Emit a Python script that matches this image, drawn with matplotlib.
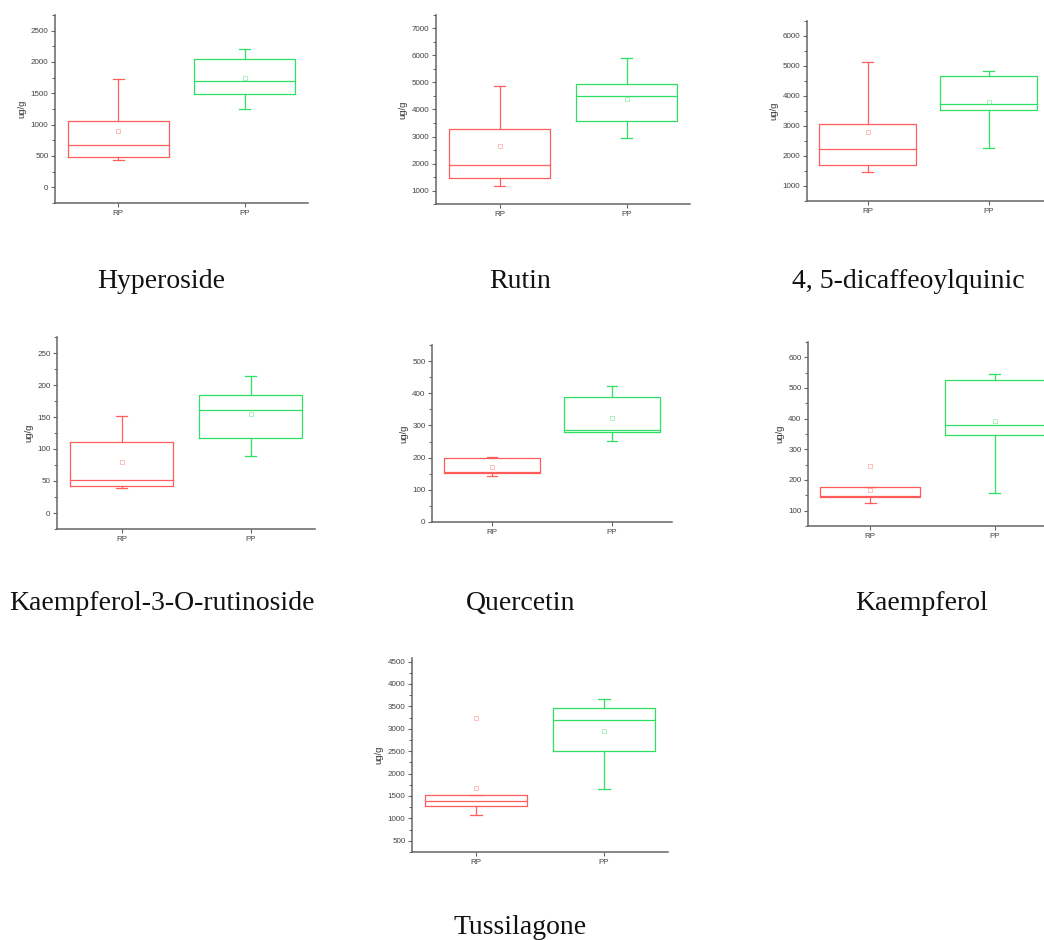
import matplotlib
matplotlib.use("Agg")
import matplotlib.pyplot as plt
from matplotlib.ticker import MultipleLocator

# Contenu (ug/g) des composés dans les deux groupes RP / PP
compounds = ["Hyperoside", "Rutin", "4, 5-dicaffeoylquinic",
             "Kaempferol-3-O-rutinoside", "Quercetin", "Kaempferol",
             "Tussilagone"]
groups = ["RP", "PP"]

rp_low = [430, 1175, 1460, 39, 142, 126, 1075]
rp_q1 = [478, 1445, 1690, 41.5, 152, 143.5, 1267]
rp_med = [672, 1950, 2240, 51, 155, 147, 1386]
rp_q3 = [1063, 3260, 3065, 111, 198, 178, 1513]
rp_high = [1725, 4870, 5140, 151, 202, 178, 1513]
rp_mean = [905, 2630, 2786, 80, 171, 167, 1677]
rp_extra = [[], [], [], [], [], [245], [3249]]

pp_low = [1255, 2950, 2283, 89.6, 252, 159, 1655]
pp_q1 = [1496, 3580, 3522, 117, 281, 348, 2496]
pp_med = [1704, 4506, 3746, 161, 285, 380, 3204]
pp_q3 = [2051, 4926, 4661, 184.5, 387, 525, 3457]
pp_high = [2201, 5914, 4839, 213.8, 422, 546, 3673]
pp_mean = [1741, 4395, 3801, 155, 322, 392, 2958]
pp_extra = [[], [], [], [], [], [], []]

y_limits = [(-250, 2750), (500, 7500), (500, 6500), (-25, 275),
            (0, 550), (50, 650), (250, 4580)]
y_major = [500, 1000, 1000, 50, 100, 100, 500]

# position des axes en pixels : gauche, haut, droite, bas
W, H = 1044, 940
panels_px = [(55, 15, 308, 203), (436, 15, 690, 204), (807, 21, 1049, 201),
             (57, 337, 315, 529), (432, 345, 672, 522), (808, 342, 1057, 526),
             (412, 658, 668, 852)]
titles_px = [(161, 281), (520, 281), (908, 281),
             (162, 603), (521, 603), (922, 603),
             (520, 928)]

RED = "#ff5c5c"
GREEN = "#2fe062"

fig = plt.figure(figsize=(W / 100, H / 100), dpi=100)

for i, name in enumerate(compounds):
    l, t, r, b = panels_px[i]
    ax = fig.add_axes([l / W, 1 - b / H, (r - l) / W, (b - t) / H])

    stats = []
    data = [(rp_low, rp_q1, rp_med, rp_q3, rp_high, rp_mean, rp_extra),
            (pp_low, pp_q1, pp_med, pp_q3, pp_high, pp_mean, pp_extra)]
    for g, (lo, q1, med, q3, hi, mn, ex) in zip(groups, data):
        stats.append(dict(label=g, whislo=lo[i], q1=q1[i], med=med[i],
                          q3=q3[i], whishi=hi[i], mean=mn[i], fliers=ex[i]))

    for k, color in enumerate([RED, GREEN]):
        line = dict(color=color, linewidth=0.9)
        pts = dict(marker="s", markersize=2.5, markerfacecolor="none",
                   markeredgecolor=color, alpha=0.4, markeredgewidth=0.7)
        ax.bxp([stats[k]], positions=[k + 1], widths=0.8, capwidths=0.09,
               showmeans=True, boxprops=line, medianprops=line,
               whiskerprops=line, capprops=line,
               meanprops=pts, flierprops=pts)

    ax.set_xlim(0.5, 2.5)
    ax.set_ylim(*y_limits[i])
    ax.set_xticks([1, 2])
    ax.set_xticklabels(groups)
    ax.yaxis.set_major_locator(MultipleLocator(y_major[i]))
    ax.yaxis.set_minor_locator(MultipleLocator(y_major[i] / 2))
    ax.set_ylabel("ug/g", fontsize=6.8, color="#333333",
                  family="Liberation Sans", labelpad=3)

    for side in ["top", "right"]:
        ax.spines[side].set_visible(False)
    for side in ["left", "bottom"]:
        ax.spines[side].set_color("#666666")
        ax.spines[side].set_linewidth(1.1)
    ax.tick_params(which="major", direction="out", length=3.2, width=0.8,
                   color="#666666", labelsize=5.8, labelcolor="#444444",
                   pad=1.5)
    ax.tick_params(which="minor", direction="out", length=2, width=0.7,
                   color="#666666")
    ax.tick_params(axis="x", which="minor", bottom=False)
    for lab in ax.get_xticklabels() + ax.get_yticklabels():
        lab.set_family("Liberation Sans")

    tx, ty = titles_px[i]
    fig.text(tx / W, 1 - ty / H, name, ha="center", va="center",
             fontsize=20, family="Liberation Serif", color="#111111")

fig.savefig("out.png", dpi=100)
